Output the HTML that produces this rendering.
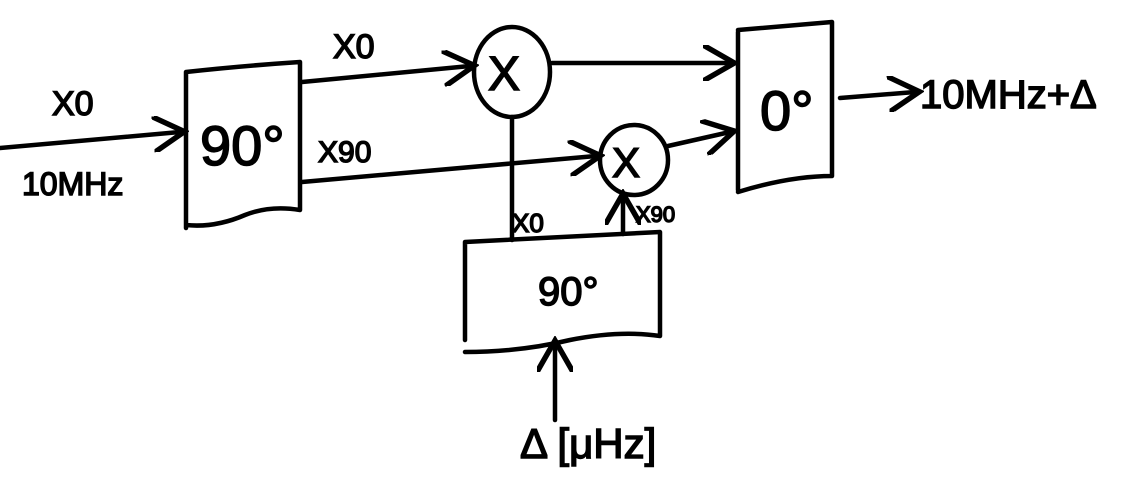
<!DOCTYPE html>
<html><head><style>html,body{margin:0;padding:0;background:#fff}svg{display:block}</style></head>
<body>
<svg width="1138" height="485" viewBox="0 0 1138 485" xmlns="http://www.w3.org/2000/svg">
<defs><marker id="a" markerWidth="8" markerHeight="8" refX="6" refY="4" orient="auto" markerUnits="strokeWidth"><path d="M0,0 L7,4 L0,8" fill="none" stroke="#000" stroke-width="1.2"/></marker></defs>
<g stroke="#000" stroke-width="4.5" fill="none" stroke-linecap="round" stroke-linejoin="round">
<path d="M0,148 L180,132" marker-end="url(#a)"/>
<path d="M186,72 L186,228 M186,72 Q240,66 300,62 L300,210 Q270,205 245,215 Q215,228 186,225"/>
<path d="M302,82 L470,66" marker-end="url(#a)"/>
<path d="M302,182 L596,156" marker-end="url(#a)"/>
<ellipse cx="512" cy="72" rx="38" ry="45"/>
<ellipse cx="634" cy="160" rx="34" ry="35"/>
<path d="M552,63 L730,63" marker-end="url(#a)"/>
<path d="M668,146 L730,132" marker-end="url(#a)"/>
<path d="M738,32 L738,190 M738,30 L832,22 L832,176 Q790,176 738,192"/>
<path d="M840,98 L915,92" marker-end="url(#a)"/>
<path d="M512,117 L512,240"/>
<path d="M623,234 L623,198" marker-end="url(#a)"/>
<path d="M465,242 L465,340 M465,242 L660,232 L660,336 Q620,330 570,340 Q520,352 465,352"/>
<path d="M555,420 L555,345" marker-end="url(#a)"/>
</g>
<g font-family="Liberation Sans, sans-serif" fill="#000" stroke="#000" stroke-width="1.5">
<text x="52" y="115" font-size="34">X0</text>
<text x="22" y="195" font-size="32">10MHz</text>
<text x="200" y="165" font-size="56">90°</text>
<text x="333" y="58" font-size="34">X0</text>
<text x="318" y="162" font-size="30">X90</text>
<text x="488" y="90" font-size="48">X</text>
<text x="612" y="177" font-size="42">X</text>
<text x="760" y="130" font-size="56">0°</text>
<text x="920" y="108" font-size="40">10MHz+Δ</text>
<text x="512" y="232" font-size="26">X0</text>
<text x="636" y="222" font-size="22">X90</text>
<text x="538" y="305" font-size="40">90°</text>
<text x="520" y="458" font-size="42">Δ [μHz]</text>
</g>
</svg>
</body></html>
